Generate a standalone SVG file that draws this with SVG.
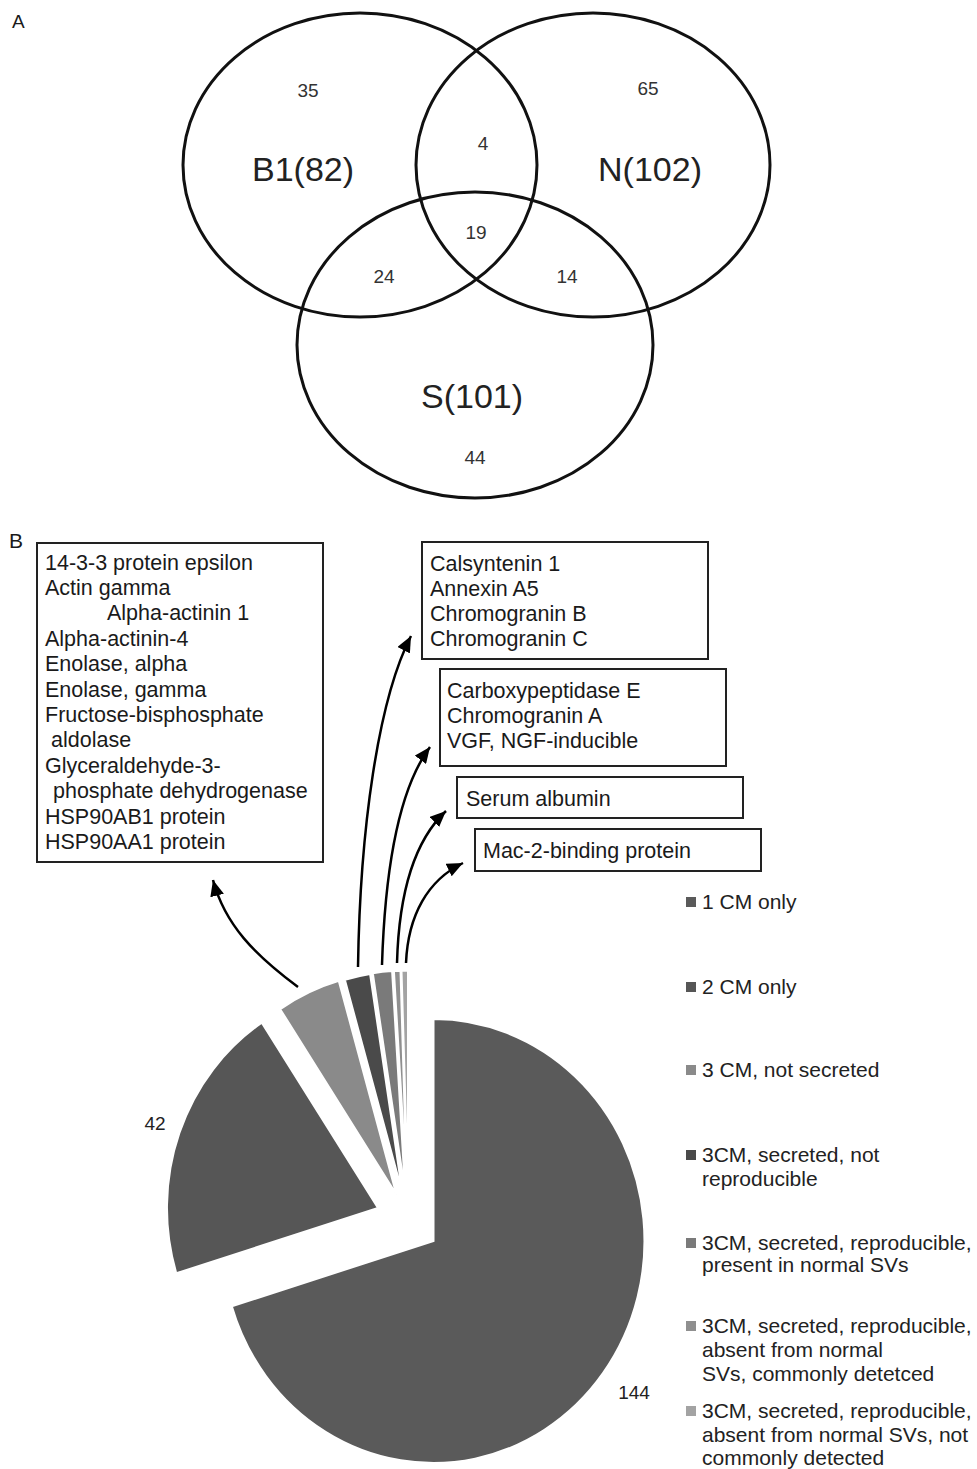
<svg xmlns="http://www.w3.org/2000/svg" width="977" height="1469" viewBox="0 0 977 1469">
<style>
text{font-family:"Liberation Sans",Arial,sans-serif;fill:#1a1a1a}
.venn{fill:none;stroke:#111;stroke-width:3}
.vbig{font-size:34px;text-anchor:middle;fill:#222}
.vsm{font-size:19px;text-anchor:middle;fill:#333}
.box{fill:#fff;stroke:#222;stroke-width:2}
.bt{font-size:21.5px}
.leg{font-size:21px;fill:#222}
.slice{stroke:#fff;stroke-width:2}
.arr{fill:none;stroke:#000;stroke-width:2.5}
.plab{font-size:19px;text-anchor:middle;fill:#222}
</style>
<defs>
<marker id="ah" markerWidth="18" markerHeight="14" refX="16" refY="7" orient="auto" markerUnits="userSpaceOnUse">
<path d="M0,0 L16,7 L0,14 Z" fill="#000"/>
</marker>
</defs>
<rect width="977" height="1469" fill="#fff"/>

<text x="12" y="28" font-size="19px">A</text>
<text x="9" y="548" font-size="21px">B</text>

<g id="venn-B1"><ellipse class="venn" cx="360" cy="165" rx="177" ry="152"/><text class="vbig" x="303" y="181">B1(82)</text></g>
<g id="venn-N"><ellipse class="venn" cx="593" cy="165" rx="177" ry="152"/><text class="vbig" x="650" y="181">N(102)</text></g>
<g id="venn-S"><ellipse class="venn" cx="475" cy="345" rx="178" ry="153"/><text class="vbig" x="472" y="408">S(101)</text></g>
<g id="venn-counts">
<text class="vsm" x="308" y="97">35</text>
<text class="vsm" x="648" y="95">65</text>
<text class="vsm" x="483" y="150">4</text>
<text class="vsm" x="476" y="239">19</text>
<text class="vsm" x="384" y="283">24</text>
<text class="vsm" x="567" y="283">14</text>
<text class="vsm" x="475" y="464">44</text>
</g>

<g id="box-3cm-not-secreted">
<rect class="box" x="37" y="543" width="286" height="319"/>
<text class="bt" x="45" y="570">14-3-3 protein epsilon</text>
<text class="bt" x="45" y="595">Actin gamma</text>
<text class="bt" x="107" y="620">Alpha-actinin 1</text>
<text class="bt" x="45" y="646">Alpha-actinin-4</text>
<text class="bt" x="45" y="671">Enolase, alpha</text>
<text class="bt" x="45" y="697">Enolase, gamma</text>
<text class="bt" x="45" y="722">Fructose-bisphosphate</text>
<text class="bt" x="51" y="747">aldolase</text>
<text class="bt" x="45" y="773">Glyceraldehyde-3-</text>
<text class="bt" x="53" y="798">phosphate dehydrogenase</text>
<text class="bt" x="45" y="824">HSP90AB1 protein</text>
<text class="bt" x="45" y="849">HSP90AA1 protein</text>
</g>
<g id="box-not-reproducible">
<rect class="box" x="422" y="542" width="286" height="117"/>
<text class="bt" x="430" y="571">Calsyntenin 1</text>
<text class="bt" x="430" y="596">Annexin A5</text>
<text class="bt" x="430" y="621">Chromogranin B</text>
<text class="bt" x="430" y="646">Chromogranin C</text>
</g>
<g id="box-present-normal">
<rect class="box" x="440" y="669" width="286" height="97"/>
<text class="bt" x="447" y="698">Carboxypeptidase E</text>
<text class="bt" x="447" y="723">Chromogranin A</text>
<text class="bt" x="447" y="748">VGF, NGF-inducible</text>
</g>
<g id="box-commonly-detected">
<rect class="box" x="457" y="777" width="286" height="41"/>
<text class="bt" x="466" y="806">Serum albumin</text>
</g>
<g id="box-not-commonly-detected">
<rect class="box" x="475" y="829" width="286" height="42"/>
<text class="bt" x="483" y="858">Mac-2-binding protein</text>
</g>

<g id="pie">
<path id="slice-1cm" class="slice" fill="#5a5a5a" d="M433.5,1241 L433.5,1019 A211,222 0 1,1 231.8,1306.3 Z"/>
<path id="slice-2cm" class="slice" fill="#565656" d="M378,1208 L176.3,1273.3 A211,222 0 0,1 261.8,1022.7 Z"/>
<path id="slice-3cm-ns" class="slice" fill="#8a8a8a" d="M396.4,1194.5 L280.2,1009.2 A211,222 0 0,1 338.8,980.9 Z"/>
<path id="slice-nr" class="slice" fill="#4a4a4a" d="M402.5,1193.5 L344.9,979.9 A211,222 0 0,1 370.1,974.1 Z"/>
<path id="slice-pn" class="slice" fill="#7a7a7a" d="M405.2,1192.6 L372.8,973.2 A211,222 0 0,1 392.1,971 Z"/>
<path id="slice-cd" class="slice" fill="#8f8f8f" d="M407,1192.6 L393.9,971 A211,222 0 0,1 400.5,970.7 Z"/>
<path id="slice-ncd" class="slice" fill="#a3a3a3" d="M408,1192.6 L401.5,970.7 A211,222 0 0,1 408,970.6 Z"/>
<text class="plab" x="155" y="1130">42</text>
<text class="plab" x="634" y="1399">144</text>
</g>

<g id="connectors">
<path class="arr" marker-end="url(#ah)" d="M298,987 C255,955 225,925 213,880"/>
<path class="arr" marker-end="url(#ah)" d="M358,967 C360,830 378,700 411,636"/>
<path class="arr" marker-end="url(#ah)" d="M382,965 C385,870 398,790 430,747"/>
<path class="arr" marker-end="url(#ah)" d="M397,963 C399,890 415,840 446,811"/>
<path class="arr" marker-end="url(#ah)" d="M406,963 C408,915 428,880 463,863"/>
</g>

<g id="legend">
<g id="leg-1"><rect x="686" y="897" width="10" height="10" fill="#5a5a5a"/><text class="leg" x="702" y="909">1 CM only</text></g>
<g id="leg-2"><rect x="686" y="982" width="10" height="10" fill="#565656"/><text class="leg" x="702" y="994">2 CM only</text></g>
<g id="leg-3"><rect x="686" y="1065" width="10" height="10" fill="#8a8a8a"/><text class="leg" x="702" y="1077">3 CM, not secreted</text></g>
<g id="leg-4"><rect x="686" y="1150" width="10" height="10" fill="#4a4a4a"/><text class="leg" x="702" y="1162">3CM, secreted, not</text><text class="leg" x="702" y="1186">reproducible</text></g>
<g id="leg-5"><rect x="686" y="1238" width="10" height="10" fill="#7a7a7a"/><text class="leg" x="702" y="1250">3CM, secreted, reproducible,</text><text class="leg" x="702" y="1272">present in normal SVs</text></g>
<g id="leg-6"><rect x="686" y="1321" width="10" height="10" fill="#8f8f8f"/><text class="leg" x="702" y="1333">3CM, secreted, reproducible,</text><text class="leg" x="702" y="1357">absent from normal</text><text class="leg" x="702" y="1381">SVs, commonly detetced</text></g>
<g id="leg-7"><rect x="686" y="1406" width="10" height="10" fill="#a3a3a3"/><text class="leg" x="702" y="1418">3CM, secreted, reproducible,</text><text class="leg" x="702" y="1442">absent from normal SVs, not</text><text class="leg" x="702" y="1465">commonly detected</text></g>
</g>
</svg>
